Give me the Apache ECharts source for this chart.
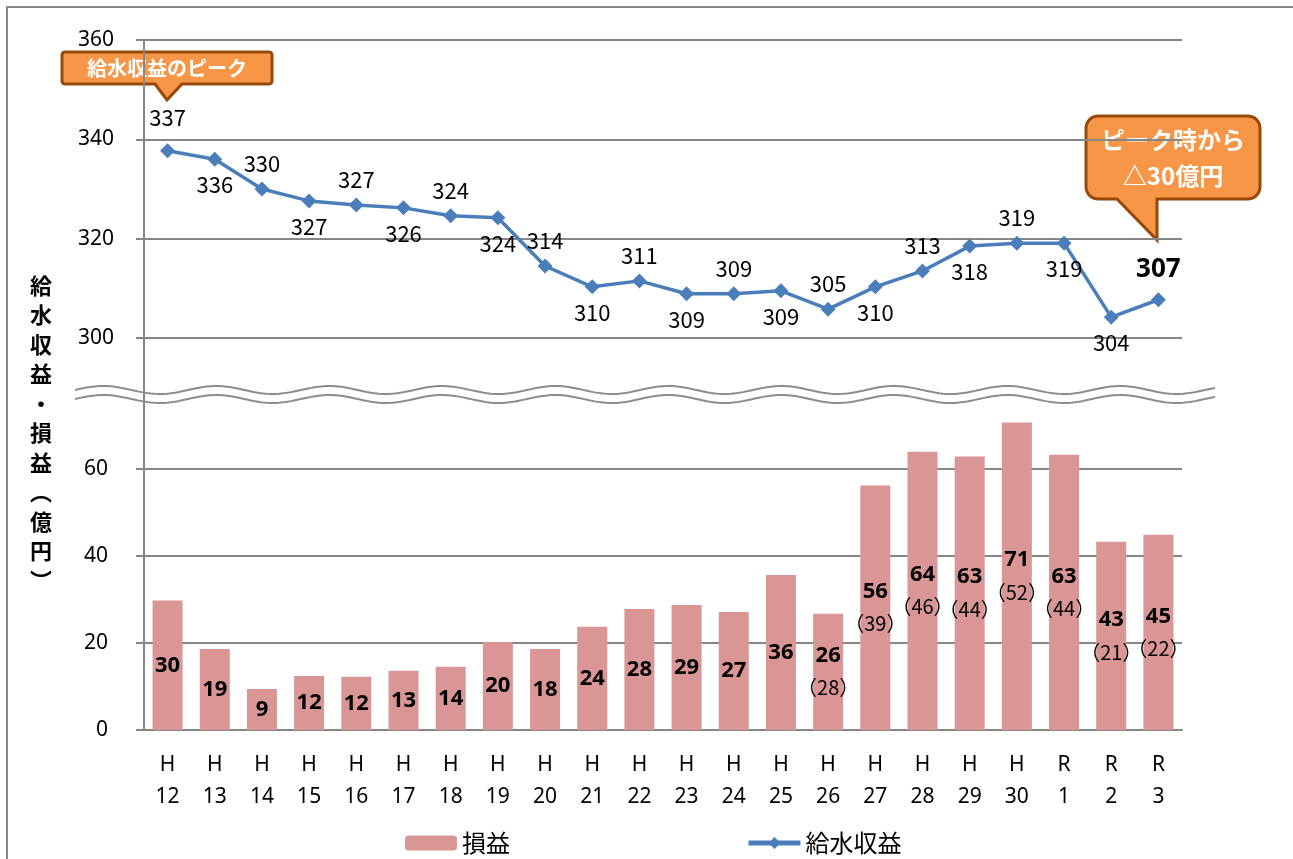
<!DOCTYPE html>
<html>
<head>
<meta charset="utf-8">
<script src="https://cdn.jsdelivr.net/npm/echarts@6/dist/echarts.min.js"></script>
<style>
  html, body { margin: 0; padding: 0; background: #fff; }
  #chart { width: 1293px; height: 859px; }
</style>
</head>
<body>
<div id="chart"></div>
<script>
// 年度（和暦）
const categories = ['H\n12', 'H\n13', 'H\n14', 'H\n15', 'H\n16', 'H\n17', 'H\n18', 'H\n19', 'H\n20', 'H\n21', 'H\n22',
  'H\n23', 'H\n24', 'H\n25', 'H\n26', 'H\n27', 'H\n28', 'H\n29', 'H\n30', 'R\n1', 'R\n2', 'R\n3']

// 給水収益（億円）
const revenue = [337.7, 336.0, 330.0, 327.6, 326.8, 326.2, 324.6, 324.2, 314.5, 310.3, 311.5,
  308.9, 308.9, 309.5, 305.8, 310.3, 313.5, 318.5, 319.1, 319.1, 304.2, 307.7]
const revenueLabels = [337, 336, 330, 327, 327, 326, 324, 324, 314, 310, 311,
  309, 309, 309, 305, 310, 313, 318, 319, 319, 304, 307]

// 損益（億円）
const profit = [29.7, 18.6, 9.4, 12.4, 12.2, 13.6, 14.5, 20.2, 18.6, 23.7, 27.8,
  28.7, 27.1, 35.6, 26.7, 56.1, 63.9, 62.8, 70.6, 63.2, 43.2, 44.8]
const profitLabels = [30, 19, 9, 12, 12, 13, 14, 20, 18, 24, 28,
  29, 27, 36, 26, 56, 64, 63, 71, 63, 43, 45]
// 括弧内の値
const profitSub = [null, null, null, null, null, null, null, null, null, null, null,
  null, null, null, 28, 39, 46, 44, 52, 44, 21, 22]

const yTicksTop = { min: 300, max: 360, interval: 20 }
const yTicksBottom = { min: 0, max: 73, interval: 20 }

const JP = '"Noto Sans CJK JP", "Noto Sans", sans-serif'
const NUM = '"Noto Sans", "Open Sans", sans-serif'
const AXIS = '#868686'

const chart = echarts.init(document.getElementById('chart'))

const lineData = revenue.map((v, i) => {
  const last = i === revenue.length - 1
  let below = i % 2 === 1
  if (i === revenue.length - 2) below = true
  if (last) below = false
  return {
    value: v,
    label: {
      position: below ? 'bottom' : 'top',
      distance: i === 0 ? 15 : (last ? 10 : 7),
      formatter: String(revenueLabels[i]),
      fontSize: last ? 26 : 22,
      fontWeight: last ? 'bold' : 'normal',
      fontFamily: last ? NUM : JP
    }
  }
})

const barData = profit.map((v, i) => ({
  value: v,
  label: {
    formatter: profitSub[i] == null
      ? '{v|' + profitLabels[i] + '}'
      : '{v|' + profitLabels[i] + '}\n{s|（' + profitSub[i] + '）}'
  }
}))

// 省略線（波線）
function wave(y0) {
  const pts = []
  for (let x = 75; x <= 1216; x += 4) {
    pts.push([x, y0 - 4 * Math.sin((x - 75) / 113 * 2 * Math.PI)])
  }
  return pts
}

// 吹き出しの輪郭（角丸＋しっぽ）
function callout(x0, y0, x1, y1, r, bx0, bx1, tx, ty) {
  const pts = []
  const corner = (cx, cy, a0) => {
    for (let k = 0; k <= 6; k++) {
      const a = (a0 + k * 15) * Math.PI / 180
      pts.push([cx + r * Math.cos(a), cy + r * Math.sin(a)])
    }
  }
  corner(x0 + r, y0 + r, 180)
  corner(x1 - r, y0 + r, 270)
  corner(x1 - r, y1 - r, 0)
  pts.push([bx1, y1], [tx, ty], [bx0, y1])
  corner(x0 + r, y1 - r, 90)
  return pts
}

const option = {
  animation: false,
  backgroundColor: '#fff',
  grid: [
    { left: 144, right: 111, top: 40, height: 298 },
    { left: 144, right: 111, top: 412, bottom: 129 }
  ],
  legend: {
    left: 400,
    top: 826,
    itemWidth: 52,
    itemHeight: 15,
    itemGap: 236,
    lineStyle: { width: 5 },
    textStyle: { fontSize: 24, color: '#000', fontFamily: JP },
    data: ['損益', '給水収益']
  },
  xAxis: [
    { gridIndex: 0, type: 'category', data: categories, show: false },
    {
      gridIndex: 1,
      type: 'category',
      data: categories,
      axisLine: { lineStyle: { color: AXIS, width: 2 } },
      axisTick: { length: 7, lineStyle: { color: AXIS, width: 2 } },
      axisLabel: { color: '#000', fontSize: 21, lineHeight: 32, margin: 19, fontFamily: NUM }
    }
  ],
  yAxis: [
    {
      gridIndex: 0,
      type: 'value',
      min: yTicksTop.min,
      max: yTicksTop.max,
      interval: yTicksTop.interval,
      axisLine: { show: true, lineStyle: { color: AXIS, width: 2 } },
      axisTick: { show: true, length: 8, lineStyle: { color: AXIS, width: 2 } },
      axisLabel: { color: '#000', fontSize: 21, margin: 30, fontFamily: NUM },
      splitLine: { lineStyle: { color: AXIS, width: 2 } }
    },
    {
      gridIndex: 1,
      type: 'value',
      min: yTicksBottom.min,
      max: yTicksBottom.max,
      interval: yTicksBottom.interval,
      axisLine: { show: true, lineStyle: { color: AXIS, width: 2 } },
      axisTick: { show: true, length: 8, lineStyle: { color: AXIS, width: 2 } },
      axisLabel: { color: '#000', fontSize: 21, margin: 36, fontFamily: NUM, showMaxLabel: false },
      splitLine: { showMaxLine: false, lineStyle: { color: AXIS, width: 2 } }
    }
  ],
  series: [
    {
      name: '損益',
      type: 'bar',
      xAxisIndex: 1,
      yAxisIndex: 1,
      barWidth: 30,
      itemStyle: { color: '#D99694' },
      label: {
        show: true,
        position: 'inside',
        color: '#000',
        rich: {
          v: { fontSize: 22, fontWeight: 'bold', fontFamily: NUM, color: '#000', lineHeight: 32 },
          s: { fontSize: 20, fontFamily: JP, color: '#000', lineHeight: 32 }
        }
      },
      data: barData
    },
    {
      name: '給水収益',
      type: 'line',
      xAxisIndex: 0,
      yAxisIndex: 0,
      symbol: 'diamond',
      symbolSize: 15,
      lineStyle: { color: '#4A7EBB', width: 3.5 },
      itemStyle: { color: '#4A7EBB' },
      label: { show: true, color: '#000' },
      data: lineData
    }
  ],
  graphic: [
    {
      type: 'rect',
      silent: true,
      shape: { x: 7, y: 7, width: 1300, height: 900 },
      style: { fill: 'none', stroke: AXIS, lineWidth: 2 }
    },
    {
      type: 'line',
      silent: true,
      shape: { x1: 144, y1: 338, x2: 144, y2: 412 },
      style: { stroke: AXIS, lineWidth: 2 }
    },
    {
      type: 'polyline',
      silent: true,
      shape: { points: wave(390) },
      style: { fill: 'none', stroke: '#8c8c8c', lineWidth: 2 }
    },
    {
      type: 'polyline',
      silent: true,
      shape: { points: wave(399) },
      style: { fill: 'none', stroke: '#8c8c8c', lineWidth: 2 }
    },
    {
      type: 'polygon',
      silent: true,
      shape: { points: callout(62, 52, 272, 84, 3, 155, 182, 167, 100) },
      style: { fill: '#F79646', stroke: '#984807', lineWidth: 3 }
    },
    {
      type: 'text',
      silent: true,
      x: 167,
      y: 68,
      style: {
        text: '給水収益のピーク',
        fill: '#fff',
        font: 'bold 20px ' + JP,
        align: 'center',
        verticalAlign: 'middle'
      }
    },
    {
      type: 'polygon',
      silent: true,
      shape: { points: callout(1086, 116, 1260, 199, 12, 1117, 1157, 1157, 240) },
      style: { fill: '#F79646', stroke: '#984807', lineWidth: 3 }
    },
    {
      type: 'text',
      silent: true,
      x: 1173,
      y: 158,
      style: {
        text: 'ピーク時から\n△30億円',
        fill: '#fff',
        font: 'bold 24px ' + JP,
        lineHeight: 36,
        align: 'center',
        verticalAlign: 'middle'
      }
    },
    {
      type: 'text',
      silent: true,
      x: 41,
      y: 433,
      style: {
        text: '給\n水\n収\n益\n・\n損\n益\n︵\n億\n円\n︶',
        fill: '#000',
        font: 'bold 22px ' + JP,
        lineHeight: 29.5,
        align: 'center',
        verticalAlign: 'middle'
      }
    }
  ]
}

chart.setOption(option)
</script>
</body>
</html>
